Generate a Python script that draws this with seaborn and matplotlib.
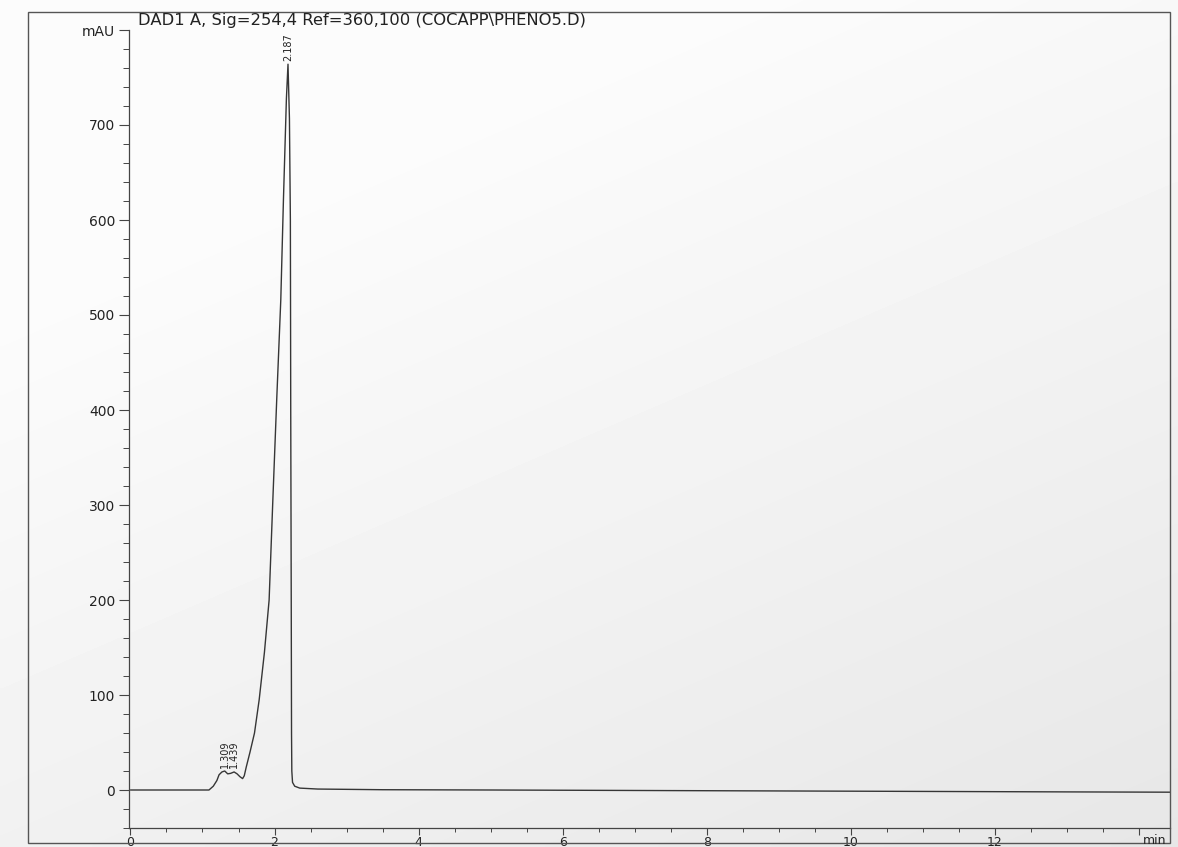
import numpy as np
import matplotlib
matplotlib.use("Agg")
import matplotlib.pyplot as plt
from matplotlib.patches import Rectangle
from matplotlib.ticker import FixedLocator, MultipleLocator
import seaborn as sns

# DAD1 A trace: retention time (min) and absorbance (mAU)
time_min = [0.0, 1.09, 1.15, 1.20, 1.23, 1.27, 1.309, 1.35, 1.39, 1.439,
            1.48, 1.52, 1.557, 1.58, 1.607, 1.66, 1.722, 1.787, 1.86, 1.925,
            1.977, 2.031, 2.087, 2.124, 2.165, 2.187, 2.207, 2.22, 2.225, 2.232,
            2.236, 2.24, 2.25, 2.28, 2.35, 2.6, 3.5, 5.0, 7.0, 9.0,
            11.0, 13.0, 14.43]
signal_mau = [0.0, 0.0, 4.0, 10.0, 16.0, 19.0, 20.0, 17.0, 17.5, 19.0,
              17.0, 14.0, 12.0, 15.0, 24.0, 40.0, 60.0, 95.0, 145.0, 200.0,
              306.0, 412.0, 516.0, 622.0, 728.0, 764.0, 707.0, 600.0, 400.0, 200.0,
              60.0, 20.0, 8.0, 4.0, 2.0, 1.0, 0.3, 0.0, -0.5, -1.0,
              -1.5, -2.0, -2.3]

# Integrated peaks (retention times printed above each apex)
peak_times = [1.309, 1.439, 2.187]

# Axis ticks
x_major = [0, 2, 4, 6, 8, 10, 12, 14]
x_labels = ["0", "2", "4", "6", "8", "10", "12", ""]
y_major = [0, 100, 200, 300, 400, 500, 600, 700, 800]
y_labels = ["0", "100", "200", "300", "400", "500", "600", "700", "mAU"]

title = "DAD1 A, Sig=254,4 Ref=360,100 (COCAPP\\PHENO5.D)"

sns.set_theme(style="white")
plt.rcParams["font.family"] = ["DejaVu Sans"]

W, H = 1178, 847
fig = plt.figure(figsize=(W / 100, H / 100), dpi=100)

# soft grey paper tone, lighter towards the upper left
bg = fig.add_axes([0, 0, 1, 1], zorder=-10)
gx, gy = np.meshgrid(np.linspace(0, 1, 300), np.linspace(0, 1, 220))
shade = np.clip(0.45 * gx + 0.75 * gy - 0.30, 0, 1)
bg.imshow(0.985 - 0.09 * shade, cmap="gray", vmin=0, vmax=1,
          extent=[0, 1, 0, 1], aspect="auto", interpolation="bilinear")
bg.set_axis_off()

left, right, bottom, top = 129 / W, 1170 / W, 1 - 828 / H, 1 - 30 / H
ax = fig.add_axes([left, bottom, right - left, top - bottom])
ax.set_facecolor("none")

sns.lineplot(x=time_min, y=signal_mau, ax=ax, color="#363636",
             linewidth=1.0, estimator=None, sort=False)

ax.set_xlim(-0.02, 14.43)
ax.set_ylim(-40, 800)

for side in ("top", "right"):
    ax.spines[side].set_visible(False)
for side in ("left", "bottom"):
    ax.spines[side].set_color("#444444")
    ax.spines[side].set_linewidth(0.9)

ax.xaxis.set_major_locator(FixedLocator(x_major))
ax.set_xticklabels(x_labels)
ax.xaxis.set_minor_locator(MultipleLocator(0.5))
ax.yaxis.set_major_locator(FixedLocator(y_major))
ax.set_yticklabels(y_labels)
ax.yaxis.set_minor_locator(MultipleLocator(20))

ax.tick_params(axis="y", which="major", direction="out", length=7, width=0.8,
               color="#444444", labelsize=10, labelcolor="#222222", pad=3, left=True)
ax.tick_params(axis="y", which="minor", direction="out", length=4, width=0.7,
               color="#444444", left=True)
ax.tick_params(axis="x", which="major", direction="out", length=5, width=0.8,
               color="#444444", labelsize=9, labelcolor="#222222", pad=1, bottom=True)
ax.tick_params(axis="x", which="minor", direction="out", length=3, width=0.7,
               color="#444444", bottom=True)
ax.set_xlabel("")
ax.set_ylabel("")

# retention-time labels above each peak apex
for t in peak_times:
    h = signal_mau[time_min.index(t)]
    ax.annotate(f"{t:.3f}", xy=(t, h), xytext=(0, 2.5), textcoords="offset points",
                rotation=90, ha="center", va="bottom", fontsize=7, color="#222222")

fig.text(1166 / W, 1 - 840 / H, "min", ha="right", va="center",
         fontsize=9, color="#222222")
fig.text(138 / W, 1 - 20 / H, title, ha="left", va="center",
         fontsize=11.8, color="#222222")

# outer report frame
fig.add_artist(Rectangle((28 / W, 1 - 843 / H), (1170 - 28) / W, (843 - 12) / H,
                         transform=fig.transFigure, fill=False,
                         linewidth=1.0, edgecolor="#555555"))

fig.savefig("out.png", dpi=100)
